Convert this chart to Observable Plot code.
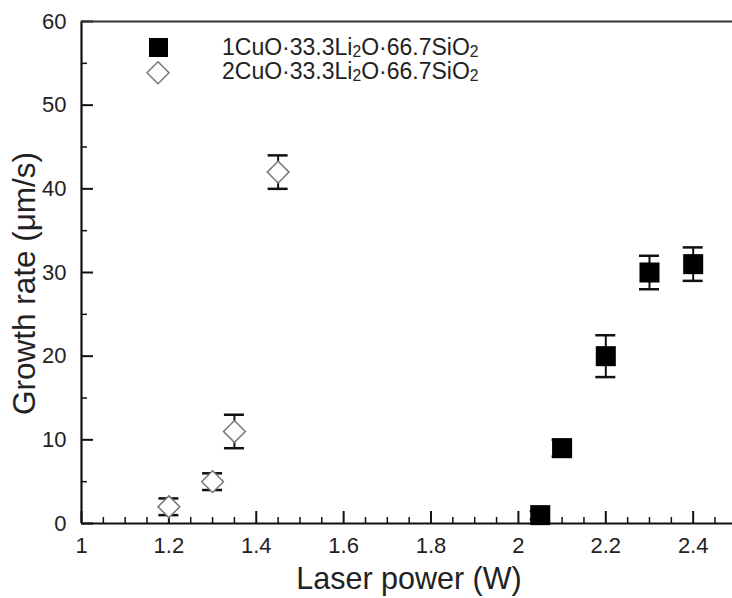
<!DOCTYPE html>
<html>
<head>
<meta charset="utf-8">
<script src="https://cdn.jsdelivr.net/npm/d3@7"></script>
<script src="https://cdn.jsdelivr.net/npm/@observablehq/plot@0.6"></script>
<style>
  html, body { margin: 0; padding: 0; background: #fff; overflow: hidden; }
  #chart { position: relative; width: 732px; height: 598px; }
  #legend { position: absolute; left: 0; top: 0; font-family: "Liberation Sans", Arial, sans-serif; font-size: 23px; color: #222; }
  #legend .row { position: absolute; left: 222px; line-height: 24px; white-space: nowrap; }
  #legend sub { font-size: 0.68em; vertical-align: -0.12em; line-height: 0; }
</style>
</head>
<body>
<div id="chart"></div>
<script>
// Growth rate vs. laser power for two copper lithium silicate glasses
const powerCuO1 = [2.05, 2.1, 2.2, 2.3, 2.4];
const rateCuO1 = [1, 9, 20, 30, 31];
const errCuO1 = [0.5, 1, 2.5, 2, 2];

const powerCuO2 = [1.2, 1.3, 1.35, 1.45];
const rateCuO2 = [2, 5, 11, 42];
const errCuO2 = [1, 1, 2, 2];

const xMajor = [1, 1.2, 1.4, 1.6, 1.8, 2, 2.2, 2.4];
const xMinor = [1.05, 1.1, 1.15, 1.25, 1.3, 1.35, 1.45, 1.5, 1.55, 1.65, 1.7, 1.75,
  1.85, 1.9, 1.95, 2.05, 2.1, 2.15, 2.25, 2.3, 2.35, 2.45];
const yMajor = [0, 10, 20, 30, 40, 50, 60];
const yMinor = [5, 15, 25, 35, 45, 55];

const seriesNames = ["1CuO·33.3Li2O·66.7SiO2", "2CuO·33.3Li2O·66.7SiO2"];

const toRows = (xs, ys, es) => xs.map((x, i) => ({x, y: ys[i], e: es[i]}));
const cuo1 = toRows(powerCuO1, rateCuO1, errCuO1);
const cuo2 = toRows(powerCuO2, rateCuO2, errCuO2);
const all = cuo1.concat(cuo2);

const font = "Liberation Sans, Arial, sans-serif";

const chart = Plot.plot({
  width: 732,
  height: 598,
  marginLeft: 81,
  marginRight: 0,
  marginTop: 21,
  marginBottom: 75,
  style: {fontFamily: font, color: "#222", background: "#fff"},
  x: {domain: [1, 2.49], label: null},
  y: {domain: [0, 60], label: null},
  marks: [
    // tick labels
    Plot.axisX({ticks: xMajor, tickSize: 0, tickPadding: 14, tickFormat: d => String(d), fontSize: 22, fill: "#222", label: null}),
    Plot.axisY({ticks: yMajor, tickSize: 0, tickPadding: 15, tickFormat: d => String(d), fontSize: 22, fill: "#222", label: null}),
    // inward tick marks
    Plot.ruleX(xMajor, {x: d => d, y1: 0, y2: 0, insetTop: -12, stroke: "#111", strokeWidth: 2}),
    Plot.ruleX(xMinor, {x: d => d, y1: 0, y2: 0, insetTop: -6, stroke: "#111", strokeWidth: 1.5}),
    Plot.ruleY(yMajor, {y: d => d, x1: 1, x2: 1, insetRight: -12, stroke: "#111", strokeWidth: 2}),
    Plot.ruleY(yMinor, {y: d => d, x1: 1, x2: 1, insetRight: -6, stroke: "#111", strokeWidth: 1.5}),
    // axis lines and top border
    Plot.ruleY([0], {stroke: "#111", strokeWidth: 2.2}),
    Plot.ruleX([1], {stroke: "#111", strokeWidth: 2.2}),
    Plot.ruleY([60], {stroke: "#333", strokeWidth: 2}),
    // error bars with caps
    Plot.ruleX(all, {x: "x", y1: d => d.y - d.e, y2: d => d.y + d.e, stroke: "#111", strokeWidth: 2}),
    Plot.ruleY(all, {y: d => d.y + d.e, x1: "x", x2: "x", insetLeft: -10, insetRight: -10, stroke: "#111", strokeWidth: 2.5}),
    Plot.ruleY(all, {y: d => d.y - d.e, x1: "x", x2: "x", insetLeft: -10, insetRight: -10, stroke: "#111", strokeWidth: 2.5}),
    // markers
    Plot.dot(cuo1, {x: "x", y: "y", symbol: "square", r: 11.3, fill: "#000"}),
    Plot.dot(cuo2, {x: "x", y: "y", symbol: "diamond2", r: 9.8, fill: "#fff", stroke: "#777", strokeWidth: 1.5}),
    // axis titles
    Plot.text(["Laser power (W)"], {frameAnchor: "bottom", textAnchor: "middle", lineAnchor: "bottom", dy: 65, dx: 2, fontSize: 30.5, fill: "#222"}),
    Plot.text(["Growth rate (\u03bcm/s)"], {frameAnchor: "left", textAnchor: "middle", lineAnchor: "middle", dx: -57, dy: 11, rotate: -90, fontSize: 31.5, fill: "#222"})
  ]
});

const root = document.getElementById("chart");
root.appendChild(chart);

// legend, laid over the plot area
const legend = document.createElement("div");
legend.id = "legend";
const withSub = s => s.replace(/(Li|SiO)2/g, "$1<sub>2</sub>");
legend.innerHTML = `
  <svg width="200" height="100" style="position:absolute;left:0;top:0;overflow:visible">
    <rect x="149" y="38" width="19" height="19" fill="#000"></rect>
    <polygon points="158,61.7 169,72.7 158,83.7 147,72.7" fill="#fff" stroke="#777" stroke-width="1.5"></polygon>
  </svg>
  <div class="row" style="top:35px">${withSub(seriesNames[0])}</div>
  <div class="row" style="top:59px">${withSub(seriesNames[1])}</div>`;
root.appendChild(legend);
</script>
</body>
</html>
